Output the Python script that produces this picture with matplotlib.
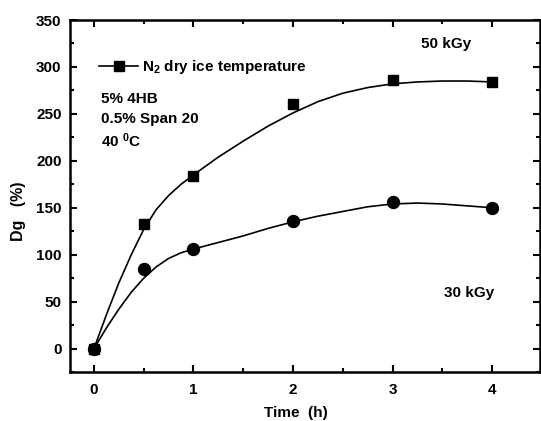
import matplotlib
matplotlib.use("Agg")
import matplotlib.pyplot as plt
from matplotlib.lines import Line2D
from matplotlib.ticker import MultipleLocator

plt.rcParams['font.family'] = ['Liberation Sans', 'DejaVu Sans']
plt.rcParams['font.weight'] = 'bold'
plt.rcParams['mathtext.fontset'] = 'custom'
plt.rcParams['mathtext.rm'] = 'Liberation Sans:bold'
plt.rcParams['mathtext.it'] = 'Liberation Sans:bold'
plt.rcParams['mathtext.bf'] = 'Liberation Sans:bold'
plt.rcParams['mathtext.default'] = 'regular'

# measured data
time_h = [0, 0.5, 1, 2, 3, 4]
dg_50kGy = [0, 133, 184, 260, 286, 284]
dg_30kGy = [0, 85, 106, 136, 156, 150]

# fitted curves
fit_t = [0, 0.125, 0.25, 0.375, 0.5, 0.625, 0.75, 0.875, 1, 1.25, 1.5, 1.75,
         2, 2.25, 2.5, 2.75, 3, 3.25, 3.5, 3.75, 4]
fit_50kGy = [0, 36, 70, 100, 127, 148, 163, 175, 185, 204, 221, 237,
             251, 263, 272, 278, 282, 284, 285, 285, 284]
fit_30kGy = [0, 22, 42, 60, 75, 87, 96, 102, 106, 113, 120, 128,
             135, 141, 146, 151, 154, 155, 154, 152, 150]

x_ticks = [0, 1, 2, 3, 4]
y_ticks = [0, 50, 100, 150, 200, 250, 300, 350]

fig = plt.figure(figsize=(5.41, 4.21), dpi=100)
ax = fig.add_axes([70/541, 49/421, 470/541, 352/421])

ax.plot(fit_t, fit_50kGy, color='black', lw=1.2)
ax.plot(fit_t, fit_30kGy, color='black', lw=1.2)
ax.plot(time_h, dg_50kGy, 's', color='black', ms=7.8, zorder=3)
ax.plot(time_h, dg_30kGy, 'o', color='black', ms=8.6, zorder=3)

ax.set_xlim(-0.241, 4.482)
ax.set_ylim(-25, 350)
ax.set_xticks(x_ticks)
ax.set_yticks(y_ticks)
ax.xaxis.set_minor_locator(MultipleLocator(0.5))
ax.yaxis.set_minor_locator(MultipleLocator(25))
ax.tick_params(which='both', direction='in', top=True, right=True,
               labelsize=11, width=1.5)
ax.tick_params(axis='x', which='major', pad=8)
ax.tick_params(axis='y', which='major', pad=6)
ax.tick_params(which='major', length=5)
ax.tick_params(which='minor', length=3)
for lbl in ax.get_xticklabels() + ax.get_yticklabels():
    lbl.set_fontweight('bold')
for sp in ax.spines.values():
    sp.set_linewidth(1.8)

ax.set_xlabel('Time  (h)', fontsize=11, fontweight='bold')
ax.set_ylabel('Dg   (%)', fontsize=11.5, fontweight='bold')
ax.xaxis.set_label_coords(0.481, -0.098)
ax.yaxis.set_label_coords(-0.094, 0.457)

handle = Line2D([], [], color='black', lw=1.2, marker='s', ms=7.8)
leg = ax.legend([handle], ['N$_2$ dry ice temperature'], loc='upper left',
                bbox_to_anchor=(0.04, 0.922), frameon=False,
                prop={'size': 11, 'weight': 'bold'},
                handlelength=2.5, handletextpad=0.3, borderaxespad=0.3)


def px(x, y):
    return ((x - 70) / 470, 1 - (y - 20) / 352)


for s, (x, y) in [('5% 4HB', (101, 99)), ('0.5% Span 20', (101, 119)),
                  ('40 $^0$C', (101, 141))]:
    ax.text(*px(x, y), s, transform=ax.transAxes, fontsize=11,
            fontweight='bold', va='center', ha='left')

ax.text(*px(446, 44), '50 kGy', transform=ax.transAxes, fontsize=11,
        fontweight='bold', va='center', ha='center')
ax.text(*px(469, 293), '30 kGy', transform=ax.transAxes, fontsize=11,
        fontweight='bold', va='center', ha='center')

fig.savefig('out.png', dpi=100)
